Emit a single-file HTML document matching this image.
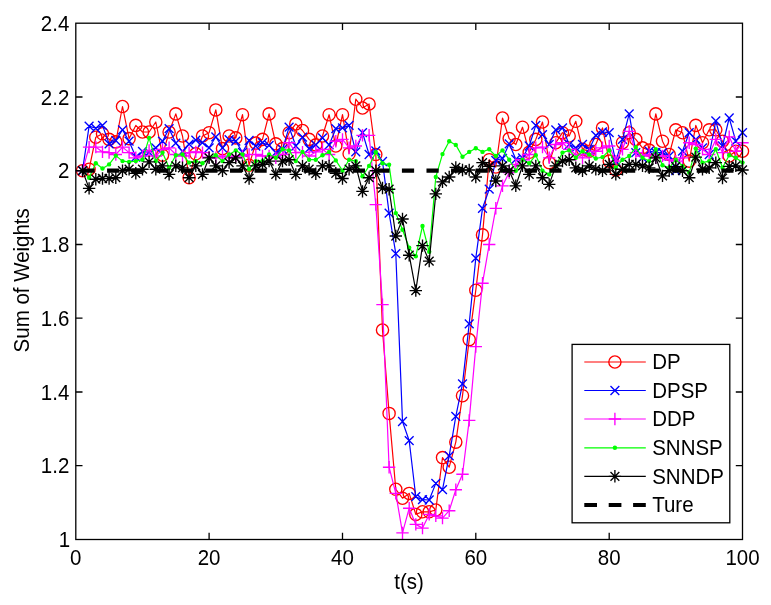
<!DOCTYPE html>
<html lang="en">
<head>
<meta charset="utf-8">
<title>Sum of Weights</title>
<style>html,body{margin:0;padding:0;background:#fff}svg{display:block;will-change:transform}</style>
</head>
<body>
<svg width="771" height="605" viewBox="0 0 771 605" font-family="'Liberation Sans', Arial, Helvetica, sans-serif" font-size="20.5" fill="#000">
<rect width="771" height="605" fill="#fff"/>
<polyline points="82.5,170.7 89.1,169.2 95.8,137.2 102.5,133.8 109.1,139.4 115.8,141.9 122.5,106.5 129.1,138.6 135.8,125.4 142.5,132.0 149.1,132.0 155.8,122.0 162.5,155.2 169.1,132.0 175.8,113.9 182.5,136.0 189.1,177.7 195.8,153.8 202.5,136.0 209.1,132.7 215.8,109.9 222.5,148.6 229.1,136.0 235.8,137.9 242.5,114.7 249.1,165.2 255.8,143.1 262.5,139.4 269.1,113.9 275.8,143.8 282.5,148.6 289.1,132.7 295.8,123.9 302.5,130.5 309.1,139.4 315.8,144.9 322.5,136.0 329.1,114.7 335.8,146.0 342.5,114.7 349.1,153.8 355.8,99.2 362.5,108.0 369.1,104.0 375.8,154.5 382.5,330.0 389.1,413.4 395.8,489.3 402.5,498.2 409.2,493.4 415.8,514.4 422.5,511.8 429.2,511.8 435.8,510.0 442.5,457.6 449.2,467.2 455.8,442.1 462.5,395.7 469.2,339.6 475.8,290.2 482.5,234.9 489.2,159.7 495.8,167.0 502.5,118.0 509.2,138.6 515.8,144.5 522.5,127.2 529.2,152.3 535.8,139.4 542.5,122.0 549.2,162.6 555.8,142.7 562.5,132.7 569.2,136.0 575.8,121.3 582.5,149.3 589.2,151.2 595.8,144.5 602.5,127.9 609.2,161.1 615.8,170.0 622.5,142.7 629.2,132.7 635.8,139.4 642.5,147.8 649.2,150.1 655.8,113.9 662.5,141.2 669.2,154.5 675.8,129.8 682.5,132.7 689.2,161.1 695.8,125.4 702.5,142.7 709.2,129.8 715.8,129.8 722.5,141.2 729.2,156.0 735.8,151.2 742.5,151.2" fill="none" stroke="#f00" stroke-width="1.2" stroke-linejoin="round"/>
<path d="M76.4 170.7a6.1 6.1 0 1 0 12.2 0a6.1 6.1 0 1 0 -12.2 0M83.0 169.2a6.1 6.1 0 1 0 12.2 0a6.1 6.1 0 1 0 -12.2 0M89.7 137.2a6.1 6.1 0 1 0 12.2 0a6.1 6.1 0 1 0 -12.2 0M96.4 133.8a6.1 6.1 0 1 0 12.2 0a6.1 6.1 0 1 0 -12.2 0M103.0 139.4a6.1 6.1 0 1 0 12.2 0a6.1 6.1 0 1 0 -12.2 0M109.7 141.9a6.1 6.1 0 1 0 12.2 0a6.1 6.1 0 1 0 -12.2 0M116.4 106.5a6.1 6.1 0 1 0 12.2 0a6.1 6.1 0 1 0 -12.2 0M123.0 138.6a6.1 6.1 0 1 0 12.2 0a6.1 6.1 0 1 0 -12.2 0M129.7 125.4a6.1 6.1 0 1 0 12.2 0a6.1 6.1 0 1 0 -12.2 0M136.4 132.0a6.1 6.1 0 1 0 12.2 0a6.1 6.1 0 1 0 -12.2 0M143.0 132.0a6.1 6.1 0 1 0 12.2 0a6.1 6.1 0 1 0 -12.2 0M149.7 122.0a6.1 6.1 0 1 0 12.2 0a6.1 6.1 0 1 0 -12.2 0M156.4 155.2a6.1 6.1 0 1 0 12.2 0a6.1 6.1 0 1 0 -12.2 0M163.0 132.0a6.1 6.1 0 1 0 12.2 0a6.1 6.1 0 1 0 -12.2 0M169.7 113.9a6.1 6.1 0 1 0 12.2 0a6.1 6.1 0 1 0 -12.2 0M176.4 136.0a6.1 6.1 0 1 0 12.2 0a6.1 6.1 0 1 0 -12.2 0M183.0 177.7a6.1 6.1 0 1 0 12.2 0a6.1 6.1 0 1 0 -12.2 0M189.7 153.8a6.1 6.1 0 1 0 12.2 0a6.1 6.1 0 1 0 -12.2 0M196.4 136.0a6.1 6.1 0 1 0 12.2 0a6.1 6.1 0 1 0 -12.2 0M203.0 132.7a6.1 6.1 0 1 0 12.2 0a6.1 6.1 0 1 0 -12.2 0M209.7 109.9a6.1 6.1 0 1 0 12.2 0a6.1 6.1 0 1 0 -12.2 0M216.4 148.6a6.1 6.1 0 1 0 12.2 0a6.1 6.1 0 1 0 -12.2 0M223.0 136.0a6.1 6.1 0 1 0 12.2 0a6.1 6.1 0 1 0 -12.2 0M229.7 137.9a6.1 6.1 0 1 0 12.2 0a6.1 6.1 0 1 0 -12.2 0M236.4 114.7a6.1 6.1 0 1 0 12.2 0a6.1 6.1 0 1 0 -12.2 0M243.0 165.2a6.1 6.1 0 1 0 12.2 0a6.1 6.1 0 1 0 -12.2 0M249.7 143.1a6.1 6.1 0 1 0 12.2 0a6.1 6.1 0 1 0 -12.2 0M256.4 139.4a6.1 6.1 0 1 0 12.2 0a6.1 6.1 0 1 0 -12.2 0M263.0 113.9a6.1 6.1 0 1 0 12.2 0a6.1 6.1 0 1 0 -12.2 0M269.7 143.8a6.1 6.1 0 1 0 12.2 0a6.1 6.1 0 1 0 -12.2 0M276.4 148.6a6.1 6.1 0 1 0 12.2 0a6.1 6.1 0 1 0 -12.2 0M283.0 132.7a6.1 6.1 0 1 0 12.2 0a6.1 6.1 0 1 0 -12.2 0M289.7 123.9a6.1 6.1 0 1 0 12.2 0a6.1 6.1 0 1 0 -12.2 0M296.4 130.5a6.1 6.1 0 1 0 12.2 0a6.1 6.1 0 1 0 -12.2 0M303.0 139.4a6.1 6.1 0 1 0 12.2 0a6.1 6.1 0 1 0 -12.2 0M309.7 144.9a6.1 6.1 0 1 0 12.2 0a6.1 6.1 0 1 0 -12.2 0M316.4 136.0a6.1 6.1 0 1 0 12.2 0a6.1 6.1 0 1 0 -12.2 0M323.0 114.7a6.1 6.1 0 1 0 12.2 0a6.1 6.1 0 1 0 -12.2 0M329.7 146.0a6.1 6.1 0 1 0 12.2 0a6.1 6.1 0 1 0 -12.2 0M336.4 114.7a6.1 6.1 0 1 0 12.2 0a6.1 6.1 0 1 0 -12.2 0M343.0 153.8a6.1 6.1 0 1 0 12.2 0a6.1 6.1 0 1 0 -12.2 0M349.7 99.2a6.1 6.1 0 1 0 12.2 0a6.1 6.1 0 1 0 -12.2 0M356.4 108.0a6.1 6.1 0 1 0 12.2 0a6.1 6.1 0 1 0 -12.2 0M363.0 104.0a6.1 6.1 0 1 0 12.2 0a6.1 6.1 0 1 0 -12.2 0M369.7 154.5a6.1 6.1 0 1 0 12.2 0a6.1 6.1 0 1 0 -12.2 0M376.4 330.0a6.1 6.1 0 1 0 12.2 0a6.1 6.1 0 1 0 -12.2 0M383.0 413.4a6.1 6.1 0 1 0 12.2 0a6.1 6.1 0 1 0 -12.2 0M389.7 489.3a6.1 6.1 0 1 0 12.2 0a6.1 6.1 0 1 0 -12.2 0M396.4 498.2a6.1 6.1 0 1 0 12.2 0a6.1 6.1 0 1 0 -12.2 0M403.1 493.4a6.1 6.1 0 1 0 12.2 0a6.1 6.1 0 1 0 -12.2 0M409.7 514.4a6.1 6.1 0 1 0 12.2 0a6.1 6.1 0 1 0 -12.2 0M416.4 511.8a6.1 6.1 0 1 0 12.2 0a6.1 6.1 0 1 0 -12.2 0M423.1 511.8a6.1 6.1 0 1 0 12.2 0a6.1 6.1 0 1 0 -12.2 0M429.7 510.0a6.1 6.1 0 1 0 12.2 0a6.1 6.1 0 1 0 -12.2 0M436.4 457.6a6.1 6.1 0 1 0 12.2 0a6.1 6.1 0 1 0 -12.2 0M443.1 467.2a6.1 6.1 0 1 0 12.2 0a6.1 6.1 0 1 0 -12.2 0M449.7 442.1a6.1 6.1 0 1 0 12.2 0a6.1 6.1 0 1 0 -12.2 0M456.4 395.7a6.1 6.1 0 1 0 12.2 0a6.1 6.1 0 1 0 -12.2 0M463.1 339.6a6.1 6.1 0 1 0 12.2 0a6.1 6.1 0 1 0 -12.2 0M469.7 290.2a6.1 6.1 0 1 0 12.2 0a6.1 6.1 0 1 0 -12.2 0M476.4 234.9a6.1 6.1 0 1 0 12.2 0a6.1 6.1 0 1 0 -12.2 0M483.1 159.7a6.1 6.1 0 1 0 12.2 0a6.1 6.1 0 1 0 -12.2 0M489.7 167.0a6.1 6.1 0 1 0 12.2 0a6.1 6.1 0 1 0 -12.2 0M496.4 118.0a6.1 6.1 0 1 0 12.2 0a6.1 6.1 0 1 0 -12.2 0M503.1 138.6a6.1 6.1 0 1 0 12.2 0a6.1 6.1 0 1 0 -12.2 0M509.7 144.5a6.1 6.1 0 1 0 12.2 0a6.1 6.1 0 1 0 -12.2 0M516.4 127.2a6.1 6.1 0 1 0 12.2 0a6.1 6.1 0 1 0 -12.2 0M523.1 152.3a6.1 6.1 0 1 0 12.2 0a6.1 6.1 0 1 0 -12.2 0M529.7 139.4a6.1 6.1 0 1 0 12.2 0a6.1 6.1 0 1 0 -12.2 0M536.4 122.0a6.1 6.1 0 1 0 12.2 0a6.1 6.1 0 1 0 -12.2 0M543.1 162.6a6.1 6.1 0 1 0 12.2 0a6.1 6.1 0 1 0 -12.2 0M549.7 142.7a6.1 6.1 0 1 0 12.2 0a6.1 6.1 0 1 0 -12.2 0M556.4 132.7a6.1 6.1 0 1 0 12.2 0a6.1 6.1 0 1 0 -12.2 0M563.1 136.0a6.1 6.1 0 1 0 12.2 0a6.1 6.1 0 1 0 -12.2 0M569.7 121.3a6.1 6.1 0 1 0 12.2 0a6.1 6.1 0 1 0 -12.2 0M576.4 149.3a6.1 6.1 0 1 0 12.2 0a6.1 6.1 0 1 0 -12.2 0M583.1 151.2a6.1 6.1 0 1 0 12.2 0a6.1 6.1 0 1 0 -12.2 0M589.7 144.5a6.1 6.1 0 1 0 12.2 0a6.1 6.1 0 1 0 -12.2 0M596.4 127.9a6.1 6.1 0 1 0 12.2 0a6.1 6.1 0 1 0 -12.2 0M603.1 161.1a6.1 6.1 0 1 0 12.2 0a6.1 6.1 0 1 0 -12.2 0M609.7 170.0a6.1 6.1 0 1 0 12.2 0a6.1 6.1 0 1 0 -12.2 0M616.4 142.7a6.1 6.1 0 1 0 12.2 0a6.1 6.1 0 1 0 -12.2 0M623.1 132.7a6.1 6.1 0 1 0 12.2 0a6.1 6.1 0 1 0 -12.2 0M629.7 139.4a6.1 6.1 0 1 0 12.2 0a6.1 6.1 0 1 0 -12.2 0M636.4 147.8a6.1 6.1 0 1 0 12.2 0a6.1 6.1 0 1 0 -12.2 0M643.1 150.1a6.1 6.1 0 1 0 12.2 0a6.1 6.1 0 1 0 -12.2 0M649.7 113.9a6.1 6.1 0 1 0 12.2 0a6.1 6.1 0 1 0 -12.2 0M656.4 141.2a6.1 6.1 0 1 0 12.2 0a6.1 6.1 0 1 0 -12.2 0M663.1 154.5a6.1 6.1 0 1 0 12.2 0a6.1 6.1 0 1 0 -12.2 0M669.7 129.8a6.1 6.1 0 1 0 12.2 0a6.1 6.1 0 1 0 -12.2 0M676.4 132.7a6.1 6.1 0 1 0 12.2 0a6.1 6.1 0 1 0 -12.2 0M683.1 161.1a6.1 6.1 0 1 0 12.2 0a6.1 6.1 0 1 0 -12.2 0M689.7 125.4a6.1 6.1 0 1 0 12.2 0a6.1 6.1 0 1 0 -12.2 0M696.4 142.7a6.1 6.1 0 1 0 12.2 0a6.1 6.1 0 1 0 -12.2 0M703.1 129.8a6.1 6.1 0 1 0 12.2 0a6.1 6.1 0 1 0 -12.2 0M709.7 129.8a6.1 6.1 0 1 0 12.2 0a6.1 6.1 0 1 0 -12.2 0M716.4 141.2a6.1 6.1 0 1 0 12.2 0a6.1 6.1 0 1 0 -12.2 0M723.1 156.0a6.1 6.1 0 1 0 12.2 0a6.1 6.1 0 1 0 -12.2 0M729.7 151.2a6.1 6.1 0 1 0 12.2 0a6.1 6.1 0 1 0 -12.2 0M736.4 151.2a6.1 6.1 0 1 0 12.2 0a6.1 6.1 0 1 0 -12.2 0" fill="none" stroke="#f00" stroke-width="1.35"/>
<polyline points="82.5,170.7 89.1,126.1 95.8,128.3 102.5,125.4 109.1,143.8 115.8,140.5 122.5,129.8 129.1,141.2 135.8,157.1 142.5,151.5 149.1,152.3 155.8,147.8 162.5,141.2 169.1,128.7 175.8,143.1 182.5,151.5 189.1,144.2 195.8,140.1 202.5,142.7 209.1,147.8 215.8,136.8 222.5,147.8 229.1,139.7 235.8,141.2 242.5,152.3 249.1,140.5 255.8,146.0 262.5,142.7 269.1,145.3 275.8,152.6 282.5,149.3 289.1,127.2 295.8,146.0 302.5,137.2 309.1,148.6 315.8,144.9 322.5,137.9 329.1,144.9 335.8,128.7 342.5,127.9 349.1,125.4 355.8,151.9 362.5,132.7 369.1,154.5 375.8,150.8 382.5,161.5 389.1,213.1 395.8,253.7 402.5,421.5 409.2,440.7 415.8,496.7 422.5,499.7 429.2,500.0 435.8,483.4 442.5,489.7 449.2,455.8 455.8,416.3 462.5,383.9 469.2,323.8 475.8,258.1 482.5,208.3 489.2,189.2 495.8,160.4 502.5,158.5 509.2,143.8 515.8,159.3 522.5,157.8 529.2,146.0 535.8,125.4 542.5,134.6 549.2,144.5 555.8,129.8 562.5,127.9 569.2,144.5 575.8,147.8 582.5,144.5 589.2,149.3 595.8,135.3 602.5,132.0 609.2,132.7 615.8,161.1 622.5,139.4 629.2,113.9 635.8,152.6 642.5,157.8 649.2,151.2 655.8,152.6 662.5,152.6 669.2,156.0 675.8,170.7 682.5,151.2 689.2,132.7 695.8,139.4 702.5,147.8 709.2,154.5 715.8,120.9 722.5,146.0 729.2,118.0 735.8,141.2 742.5,132.7" fill="none" stroke="#00f" stroke-width="1.2" stroke-linejoin="round"/>
<path d="M78.1 166.3l8.8 8.8M78.1 175.1l8.8 -8.8M84.7 121.7l8.8 8.8M84.7 130.5l8.8 -8.8M91.4 123.9l8.8 8.8M91.4 132.7l8.8 -8.8M98.1 121.0l8.8 8.8M98.1 129.8l8.8 -8.8M104.7 139.4l8.8 8.8M104.7 148.2l8.8 -8.8M111.4 136.1l8.8 8.8M111.4 144.9l8.8 -8.8M118.1 125.4l8.8 8.8M118.1 134.2l8.8 -8.8M124.7 136.8l8.8 8.8M124.7 145.6l8.8 -8.8M131.4 152.7l8.8 8.8M131.4 161.5l8.8 -8.8M138.1 147.1l8.8 8.8M138.1 155.9l8.8 -8.8M144.7 147.9l8.8 8.8M144.7 156.7l8.8 -8.8M151.4 143.4l8.8 8.8M151.4 152.2l8.8 -8.8M158.1 136.8l8.8 8.8M158.1 145.6l8.8 -8.8M164.7 124.3l8.8 8.8M164.7 133.1l8.8 -8.8M171.4 138.7l8.8 8.8M171.4 147.5l8.8 -8.8M178.1 147.1l8.8 8.8M178.1 155.9l8.8 -8.8M184.7 139.8l8.8 8.8M184.7 148.6l8.8 -8.8M191.4 135.7l8.8 8.8M191.4 144.5l8.8 -8.8M198.1 138.3l8.8 8.8M198.1 147.1l8.8 -8.8M204.7 143.4l8.8 8.8M204.7 152.2l8.8 -8.8M211.4 132.4l8.8 8.8M211.4 141.2l8.8 -8.8M218.1 143.4l8.8 8.8M218.1 152.2l8.8 -8.8M224.7 135.3l8.8 8.8M224.7 144.1l8.8 -8.8M231.4 136.8l8.8 8.8M231.4 145.6l8.8 -8.8M238.1 147.9l8.8 8.8M238.1 156.7l8.8 -8.8M244.7 136.1l8.8 8.8M244.7 144.9l8.8 -8.8M251.4 141.6l8.8 8.8M251.4 150.4l8.8 -8.8M258.1 138.3l8.8 8.8M258.1 147.1l8.8 -8.8M264.7 140.9l8.8 8.8M264.7 149.7l8.8 -8.8M271.4 148.2l8.8 8.8M271.4 157.0l8.8 -8.8M278.1 144.9l8.8 8.8M278.1 153.7l8.8 -8.8M284.7 122.8l8.8 8.8M284.7 131.6l8.8 -8.8M291.4 141.6l8.8 8.8M291.4 150.4l8.8 -8.8M298.1 132.8l8.8 8.8M298.1 141.6l8.8 -8.8M304.7 144.2l8.8 8.8M304.7 153.0l8.8 -8.8M311.4 140.5l8.8 8.8M311.4 149.3l8.8 -8.8M318.1 133.5l8.8 8.8M318.1 142.3l8.8 -8.8M324.7 140.5l8.8 8.8M324.7 149.3l8.8 -8.8M331.4 124.3l8.8 8.8M331.4 133.1l8.8 -8.8M338.1 123.5l8.8 8.8M338.1 132.3l8.8 -8.8M344.7 121.0l8.8 8.8M344.7 129.8l8.8 -8.8M351.4 147.5l8.8 8.8M351.4 156.3l8.8 -8.8M358.1 128.3l8.8 8.8M358.1 137.1l8.8 -8.8M364.7 150.1l8.8 8.8M364.7 158.9l8.8 -8.8M371.4 146.4l8.8 8.8M371.4 155.2l8.8 -8.8M378.1 157.1l8.8 8.8M378.1 165.9l8.8 -8.8M384.7 208.7l8.8 8.8M384.7 217.5l8.8 -8.8M391.4 249.3l8.8 8.8M391.4 258.1l8.8 -8.8M398.1 417.1l8.8 8.8M398.1 425.9l8.8 -8.8M404.8 436.3l8.8 8.8M404.8 445.1l8.8 -8.8M411.4 492.3l8.8 8.8M411.4 501.1l8.8 -8.8M418.1 495.3l8.8 8.8M418.1 504.1l8.8 -8.8M424.8 495.6l8.8 8.8M424.8 504.4l8.8 -8.8M431.4 479.0l8.8 8.8M431.4 487.8l8.8 -8.8M438.1 485.3l8.8 8.8M438.1 494.1l8.8 -8.8M444.8 451.4l8.8 8.8M444.8 460.2l8.8 -8.8M451.4 411.9l8.8 8.8M451.4 420.7l8.8 -8.8M458.1 379.5l8.8 8.8M458.1 388.3l8.8 -8.8M464.8 319.4l8.8 8.8M464.8 328.2l8.8 -8.8M471.4 253.7l8.8 8.8M471.4 262.5l8.8 -8.8M478.1 203.9l8.8 8.8M478.1 212.7l8.8 -8.8M484.8 184.8l8.8 8.8M484.8 193.6l8.8 -8.8M491.4 156.0l8.8 8.8M491.4 164.8l8.8 -8.8M498.1 154.1l8.8 8.8M498.1 162.9l8.8 -8.8M504.8 139.4l8.8 8.8M504.8 148.2l8.8 -8.8M511.4 154.9l8.8 8.8M511.4 163.7l8.8 -8.8M518.1 153.4l8.8 8.8M518.1 162.2l8.8 -8.8M524.8 141.6l8.8 8.8M524.8 150.4l8.8 -8.8M531.4 121.0l8.8 8.8M531.4 129.8l8.8 -8.8M538.1 130.2l8.8 8.8M538.1 139.0l8.8 -8.8M544.8 140.1l8.8 8.8M544.8 148.9l8.8 -8.8M551.4 125.4l8.8 8.8M551.4 134.2l8.8 -8.8M558.1 123.5l8.8 8.8M558.1 132.3l8.8 -8.8M564.8 140.1l8.8 8.8M564.8 148.9l8.8 -8.8M571.4 143.4l8.8 8.8M571.4 152.2l8.8 -8.8M578.1 140.1l8.8 8.8M578.1 148.9l8.8 -8.8M584.8 144.9l8.8 8.8M584.8 153.7l8.8 -8.8M591.4 130.9l8.8 8.8M591.4 139.7l8.8 -8.8M598.1 127.6l8.8 8.8M598.1 136.4l8.8 -8.8M604.8 128.3l8.8 8.8M604.8 137.1l8.8 -8.8M611.4 156.7l8.8 8.8M611.4 165.5l8.8 -8.8M618.1 135.0l8.8 8.8M618.1 143.8l8.8 -8.8M624.8 109.5l8.8 8.8M624.8 118.3l8.8 -8.8M631.4 148.2l8.8 8.8M631.4 157.0l8.8 -8.8M638.1 153.4l8.8 8.8M638.1 162.2l8.8 -8.8M644.8 146.8l8.8 8.8M644.8 155.6l8.8 -8.8M651.4 148.2l8.8 8.8M651.4 157.0l8.8 -8.8M658.1 148.2l8.8 8.8M658.1 157.0l8.8 -8.8M664.8 151.6l8.8 8.8M664.8 160.4l8.8 -8.8M671.4 166.3l8.8 8.8M671.4 175.1l8.8 -8.8M678.1 146.8l8.8 8.8M678.1 155.6l8.8 -8.8M684.8 128.3l8.8 8.8M684.8 137.1l8.8 -8.8M691.4 135.0l8.8 8.8M691.4 143.8l8.8 -8.8M698.1 143.4l8.8 8.8M698.1 152.2l8.8 -8.8M704.8 150.1l8.8 8.8M704.8 158.9l8.8 -8.8M711.4 116.5l8.8 8.8M711.4 125.3l8.8 -8.8M718.1 141.6l8.8 8.8M718.1 150.4l8.8 -8.8M724.8 113.6l8.8 8.8M724.8 122.4l8.8 -8.8M731.4 136.8l8.8 8.8M731.4 145.6l8.8 -8.8M738.1 128.3l8.8 8.8M738.1 137.1l8.8 -8.8" fill="none" stroke="#00f" stroke-width="1.35"/>
<polyline points="82.5,170.7 89.1,147.1 95.8,147.1 102.5,151.9 109.1,152.6 115.8,154.5 122.5,147.1 129.1,152.6 135.8,157.8 142.5,156.0 149.1,150.4 155.8,156.0 162.5,149.3 169.1,147.8 175.8,154.5 182.5,156.0 189.1,152.6 195.8,151.9 202.5,152.6 209.1,157.1 215.8,157.8 222.5,156.0 229.1,157.8 235.8,156.0 242.5,156.0 249.1,154.5 255.8,154.5 262.5,156.0 269.1,156.0 275.8,157.8 282.5,154.5 289.1,142.7 295.8,152.6 302.5,152.3 309.1,156.0 315.8,151.9 322.5,149.3 329.1,154.5 335.8,141.2 342.5,139.4 349.1,147.8 355.8,146.0 362.5,135.3 369.1,135.3 375.8,204.6 382.5,304.6 389.1,467.2 395.8,493.4 402.5,532.9 409.2,508.2 415.8,524.4 422.5,528.1 429.2,514.4 435.8,515.9 442.5,518.1 449.2,510.7 455.8,489.7 462.5,474.2 469.2,420.4 475.8,346.6 482.5,283.2 489.2,244.5 495.8,208.3 502.5,185.8 509.2,172.6 515.8,164.4 522.5,159.7 529.2,154.5 535.8,147.8 542.5,147.1 549.2,157.8 555.8,144.5 562.5,142.7 569.2,149.3 575.8,154.5 582.5,157.8 589.2,154.5 595.8,151.2 602.5,147.8 609.2,146.0 615.8,161.1 622.5,149.3 629.2,131.3 635.8,152.6 642.5,156.0 649.2,154.5 655.8,157.8 662.5,156.0 669.2,159.7 675.8,161.1 682.5,157.8 689.2,142.7 695.8,144.5 702.5,149.3 709.2,154.5 715.8,139.4 722.5,152.6 729.2,136.8 735.8,151.2 742.5,142.7" fill="none" stroke="#f0f" stroke-width="1.2" stroke-linejoin="round"/>
<path d="M76.3 170.7h12.4M82.5 164.5v12.4M82.9 147.1h12.4M89.1 140.9v12.4M89.6 147.1h12.4M95.8 140.9v12.4M96.3 151.9h12.4M102.5 145.7v12.4M102.9 152.6h12.4M109.1 146.4v12.4M109.6 154.5h12.4M115.8 148.3v12.4M116.3 147.1h12.4M122.5 140.9v12.4M122.9 152.6h12.4M129.1 146.4v12.4M129.6 157.8h12.4M135.8 151.6v12.4M136.3 156.0h12.4M142.5 149.8v12.4M142.9 150.4h12.4M149.1 144.2v12.4M149.6 156.0h12.4M155.8 149.8v12.4M156.3 149.3h12.4M162.5 143.1v12.4M162.9 147.8h12.4M169.1 141.6v12.4M169.6 154.5h12.4M175.8 148.3v12.4M176.3 156.0h12.4M182.5 149.8v12.4M182.9 152.6h12.4M189.1 146.4v12.4M189.6 151.9h12.4M195.8 145.7v12.4M196.3 152.6h12.4M202.5 146.4v12.4M202.9 157.1h12.4M209.1 150.9v12.4M209.6 157.8h12.4M215.8 151.6v12.4M216.3 156.0h12.4M222.5 149.8v12.4M222.9 157.8h12.4M229.1 151.6v12.4M229.6 156.0h12.4M235.8 149.8v12.4M236.3 156.0h12.4M242.5 149.8v12.4M242.9 154.5h12.4M249.1 148.3v12.4M249.6 154.5h12.4M255.8 148.3v12.4M256.3 156.0h12.4M262.5 149.8v12.4M262.9 156.0h12.4M269.1 149.8v12.4M269.6 157.8h12.4M275.8 151.6v12.4M276.3 154.5h12.4M282.5 148.3v12.4M282.9 142.7h12.4M289.1 136.5v12.4M289.6 152.6h12.4M295.8 146.4v12.4M296.3 152.3h12.4M302.5 146.1v12.4M302.9 156.0h12.4M309.1 149.8v12.4M309.6 151.9h12.4M315.8 145.7v12.4M316.3 149.3h12.4M322.5 143.1v12.4M322.9 154.5h12.4M329.1 148.3v12.4M329.6 141.2h12.4M335.8 135.0v12.4M336.3 139.4h12.4M342.5 133.2v12.4M342.9 147.8h12.4M349.1 141.6v12.4M349.6 146.0h12.4M355.8 139.8v12.4M356.3 135.3h12.4M362.5 129.1v12.4M362.9 135.3h12.4M369.1 129.1v12.4M369.6 204.6h12.4M375.8 198.4v12.4M376.3 304.6h12.4M382.5 298.4v12.4M382.9 467.2h12.4M389.1 461.0v12.4M389.6 493.4h12.4M395.8 487.2v12.4M396.3 532.9h12.4M402.5 526.7v12.4M403.0 508.2h12.4M409.2 502.0v12.4M409.6 524.4h12.4M415.8 518.2v12.4M416.3 528.1h12.4M422.5 521.9v12.4M423.0 514.4h12.4M429.2 508.2v12.4M429.6 515.9h12.4M435.8 509.7v12.4M436.3 518.1h12.4M442.5 511.9v12.4M443.0 510.7h12.4M449.2 504.5v12.4M449.6 489.7h12.4M455.8 483.5v12.4M456.3 474.2h12.4M462.5 468.0v12.4M463.0 420.4h12.4M469.2 414.2v12.4M469.6 346.6h12.4M475.8 340.4v12.4M476.3 283.2h12.4M482.5 277.0v12.4M483.0 244.5h12.4M489.2 238.3v12.4M489.6 208.3h12.4M495.8 202.1v12.4M496.3 185.8h12.4M502.5 179.6v12.4M503.0 172.6h12.4M509.2 166.4v12.4M509.6 164.4h12.4M515.8 158.2v12.4M516.3 159.7h12.4M522.5 153.5v12.4M523.0 154.5h12.4M529.2 148.3v12.4M529.6 147.8h12.4M535.8 141.6v12.4M536.3 147.1h12.4M542.5 140.9v12.4M543.0 157.8h12.4M549.2 151.6v12.4M549.6 144.5h12.4M555.8 138.3v12.4M556.3 142.7h12.4M562.5 136.5v12.4M563.0 149.3h12.4M569.2 143.1v12.4M569.6 154.5h12.4M575.8 148.3v12.4M576.3 157.8h12.4M582.5 151.6v12.4M583.0 154.5h12.4M589.2 148.3v12.4M589.6 151.2h12.4M595.8 145.0v12.4M596.3 147.8h12.4M602.5 141.6v12.4M603.0 146.0h12.4M609.2 139.8v12.4M609.6 161.1h12.4M615.8 154.9v12.4M616.3 149.3h12.4M622.5 143.1v12.4M623.0 131.3h12.4M629.2 125.1v12.4M629.6 152.6h12.4M635.8 146.4v12.4M636.3 156.0h12.4M642.5 149.8v12.4M643.0 154.5h12.4M649.2 148.3v12.4M649.6 157.8h12.4M655.8 151.6v12.4M656.3 156.0h12.4M662.5 149.8v12.4M663.0 159.7h12.4M669.2 153.5v12.4M669.6 161.1h12.4M675.8 154.9v12.4M676.3 157.8h12.4M682.5 151.6v12.4M683.0 142.7h12.4M689.2 136.5v12.4M689.6 144.5h12.4M695.8 138.3v12.4M696.3 149.3h12.4M702.5 143.1v12.4M703.0 154.5h12.4M709.2 148.3v12.4M709.6 139.4h12.4M715.8 133.2v12.4M716.3 152.6h12.4M722.5 146.4v12.4M723.0 136.8h12.4M729.2 130.6v12.4M729.6 151.2h12.4M735.8 145.0v12.4M736.3 142.7h12.4M742.5 136.5v12.4" fill="none" stroke="#f0f" stroke-width="1.35"/>
<polyline points="82.5,170.7 89.1,177.7 95.8,163.3 102.5,168.5 109.1,164.4 115.8,155.6 122.5,161.1 129.1,161.9 135.8,161.1 142.5,159.7 149.1,137.9 155.8,161.1 162.5,152.6 169.1,167.8 175.8,155.2 182.5,154.5 189.1,162.6 195.8,161.1 202.5,163.3 209.1,157.8 215.8,155.2 222.5,161.1 229.1,154.5 235.8,150.4 242.5,154.5 249.1,169.2 255.8,161.1 262.5,161.1 269.1,154.5 275.8,157.8 282.5,149.3 289.1,150.4 295.8,161.1 302.5,151.9 309.1,159.7 315.8,159.7 322.5,155.2 329.1,151.9 335.8,160.4 342.5,170.7 349.1,159.7 355.8,161.1 362.5,176.2 369.1,165.9 375.8,152.3 382.5,163.3 389.1,164.8 395.8,213.1 402.5,229.7 409.2,247.8 415.8,256.3 422.5,226.0 429.2,251.8 435.8,177.0 442.5,154.1 449.2,141.2 455.8,144.9 462.5,156.7 469.2,151.9 475.8,148.2 482.5,151.9 489.2,149.3 495.8,156.0 502.5,150.4 509.2,159.7 515.8,170.7 522.5,159.7 529.2,163.3 535.8,155.2 542.5,170.7 549.2,174.4 555.8,165.9 562.5,152.6 569.2,150.4 575.8,157.8 582.5,151.2 589.2,154.5 595.8,158.5 602.5,157.1 609.2,150.4 615.8,167.8 622.5,159.7 629.2,156.0 635.8,147.1 642.5,157.8 649.2,161.1 655.8,149.3 662.5,165.2 669.2,167.8 675.8,159.7 682.5,165.9 689.2,172.6 695.8,148.6 702.5,162.6 709.2,161.1 715.8,149.3 722.5,167.8 729.2,155.2 735.8,157.8 742.5,162.6" fill="none" stroke="#0f0" stroke-width="1.2" stroke-linejoin="round"/>
<g fill="#0f0"><circle cx="82.5" cy="170.7" r="2.2"/><circle cx="89.1" cy="177.7" r="2.2"/><circle cx="95.8" cy="163.3" r="2.2"/><circle cx="102.5" cy="168.5" r="2.2"/><circle cx="109.1" cy="164.4" r="2.2"/><circle cx="115.8" cy="155.6" r="2.2"/><circle cx="122.5" cy="161.1" r="2.2"/><circle cx="129.1" cy="161.9" r="2.2"/><circle cx="135.8" cy="161.1" r="2.2"/><circle cx="142.5" cy="159.7" r="2.2"/><circle cx="149.1" cy="137.9" r="2.2"/><circle cx="155.8" cy="161.1" r="2.2"/><circle cx="162.5" cy="152.6" r="2.2"/><circle cx="169.1" cy="167.8" r="2.2"/><circle cx="175.8" cy="155.2" r="2.2"/><circle cx="182.5" cy="154.5" r="2.2"/><circle cx="189.1" cy="162.6" r="2.2"/><circle cx="195.8" cy="161.1" r="2.2"/><circle cx="202.5" cy="163.3" r="2.2"/><circle cx="209.1" cy="157.8" r="2.2"/><circle cx="215.8" cy="155.2" r="2.2"/><circle cx="222.5" cy="161.1" r="2.2"/><circle cx="229.1" cy="154.5" r="2.2"/><circle cx="235.8" cy="150.4" r="2.2"/><circle cx="242.5" cy="154.5" r="2.2"/><circle cx="249.1" cy="169.2" r="2.2"/><circle cx="255.8" cy="161.1" r="2.2"/><circle cx="262.5" cy="161.1" r="2.2"/><circle cx="269.1" cy="154.5" r="2.2"/><circle cx="275.8" cy="157.8" r="2.2"/><circle cx="282.5" cy="149.3" r="2.2"/><circle cx="289.1" cy="150.4" r="2.2"/><circle cx="295.8" cy="161.1" r="2.2"/><circle cx="302.5" cy="151.9" r="2.2"/><circle cx="309.1" cy="159.7" r="2.2"/><circle cx="315.8" cy="159.7" r="2.2"/><circle cx="322.5" cy="155.2" r="2.2"/><circle cx="329.1" cy="151.9" r="2.2"/><circle cx="335.8" cy="160.4" r="2.2"/><circle cx="342.5" cy="170.7" r="2.2"/><circle cx="349.1" cy="159.7" r="2.2"/><circle cx="355.8" cy="161.1" r="2.2"/><circle cx="362.5" cy="176.2" r="2.2"/><circle cx="369.1" cy="165.9" r="2.2"/><circle cx="375.8" cy="152.3" r="2.2"/><circle cx="382.5" cy="163.3" r="2.2"/><circle cx="389.1" cy="164.8" r="2.2"/><circle cx="395.8" cy="213.1" r="2.2"/><circle cx="402.5" cy="229.7" r="2.2"/><circle cx="409.2" cy="247.8" r="2.2"/><circle cx="415.8" cy="256.3" r="2.2"/><circle cx="422.5" cy="226.0" r="2.2"/><circle cx="429.2" cy="251.8" r="2.2"/><circle cx="435.8" cy="177.0" r="2.2"/><circle cx="442.5" cy="154.1" r="2.2"/><circle cx="449.2" cy="141.2" r="2.2"/><circle cx="455.8" cy="144.9" r="2.2"/><circle cx="462.5" cy="156.7" r="2.2"/><circle cx="469.2" cy="151.9" r="2.2"/><circle cx="475.8" cy="148.2" r="2.2"/><circle cx="482.5" cy="151.9" r="2.2"/><circle cx="489.2" cy="149.3" r="2.2"/><circle cx="495.8" cy="156.0" r="2.2"/><circle cx="502.5" cy="150.4" r="2.2"/><circle cx="509.2" cy="159.7" r="2.2"/><circle cx="515.8" cy="170.7" r="2.2"/><circle cx="522.5" cy="159.7" r="2.2"/><circle cx="529.2" cy="163.3" r="2.2"/><circle cx="535.8" cy="155.2" r="2.2"/><circle cx="542.5" cy="170.7" r="2.2"/><circle cx="549.2" cy="174.4" r="2.2"/><circle cx="555.8" cy="165.9" r="2.2"/><circle cx="562.5" cy="152.6" r="2.2"/><circle cx="569.2" cy="150.4" r="2.2"/><circle cx="575.8" cy="157.8" r="2.2"/><circle cx="582.5" cy="151.2" r="2.2"/><circle cx="589.2" cy="154.5" r="2.2"/><circle cx="595.8" cy="158.5" r="2.2"/><circle cx="602.5" cy="157.1" r="2.2"/><circle cx="609.2" cy="150.4" r="2.2"/><circle cx="615.8" cy="167.8" r="2.2"/><circle cx="622.5" cy="159.7" r="2.2"/><circle cx="629.2" cy="156.0" r="2.2"/><circle cx="635.8" cy="147.1" r="2.2"/><circle cx="642.5" cy="157.8" r="2.2"/><circle cx="649.2" cy="161.1" r="2.2"/><circle cx="655.8" cy="149.3" r="2.2"/><circle cx="662.5" cy="165.2" r="2.2"/><circle cx="669.2" cy="167.8" r="2.2"/><circle cx="675.8" cy="159.7" r="2.2"/><circle cx="682.5" cy="165.9" r="2.2"/><circle cx="689.2" cy="172.6" r="2.2"/><circle cx="695.8" cy="148.6" r="2.2"/><circle cx="702.5" cy="162.6" r="2.2"/><circle cx="709.2" cy="161.1" r="2.2"/><circle cx="715.8" cy="149.3" r="2.2"/><circle cx="722.5" cy="167.8" r="2.2"/><circle cx="729.2" cy="155.2" r="2.2"/><circle cx="735.8" cy="157.8" r="2.2"/><circle cx="742.5" cy="162.6" r="2.2"/></g>
<polyline points="82.5,170.7 89.1,188.4 95.8,179.2 102.5,178.5 109.1,178.5 115.8,177.7 122.5,170.7 129.1,169.2 135.8,173.3 142.5,169.2 149.1,161.9 155.8,169.2 162.5,165.9 169.1,174.4 175.8,165.9 182.5,167.8 189.1,177.7 195.8,165.9 202.5,174.4 209.1,157.8 215.8,165.9 222.5,170.7 229.1,162.6 235.8,157.8 242.5,165.9 249.1,178.5 255.8,165.9 262.5,164.4 269.1,161.1 275.8,174.4 282.5,161.1 289.1,159.7 295.8,174.4 302.5,165.9 309.1,169.2 315.8,173.7 322.5,165.9 329.1,165.9 335.8,173.3 342.5,178.5 349.1,169.2 355.8,165.9 362.5,191.4 369.1,177.7 375.8,170.7 382.5,188.0 389.1,189.2 395.8,236.0 402.5,219.0 409.2,255.2 415.8,290.6 422.5,245.6 429.2,261.1 435.8,193.9 442.5,181.8 449.2,177.0 455.8,167.4 462.5,170.0 469.2,170.0 475.8,177.0 482.5,162.6 489.2,166.3 495.8,181.0 502.5,165.9 509.2,170.7 515.8,185.8 522.5,165.9 529.2,174.4 535.8,165.9 542.5,177.7 549.2,184.4 555.8,165.9 562.5,161.1 569.2,159.7 575.8,167.8 582.5,170.7 589.2,165.9 595.8,169.2 602.5,170.7 609.2,164.4 615.8,174.4 622.5,169.2 629.2,164.4 635.8,164.4 642.5,165.9 649.2,167.8 655.8,157.8 662.5,175.9 669.2,170.7 675.8,166.7 682.5,170.7 689.2,177.7 695.8,157.1 702.5,169.2 709.2,167.8 715.8,162.6 722.5,178.1 729.2,166.3 735.8,165.9 742.5,170.0" fill="none" stroke="#000" stroke-width="1.2" stroke-linejoin="round"/>
<path d="M76.3 170.7h12.4M82.5 164.5v12.4M78.1 166.3l8.8 8.8M78.1 175.1l8.8 -8.8M82.9 188.4h12.4M89.1 182.2v12.4M84.7 184.0l8.8 8.8M84.7 192.8l8.8 -8.8M89.6 179.2h12.4M95.8 173.0v12.4M91.4 174.8l8.8 8.8M91.4 183.6l8.8 -8.8M96.3 178.5h12.4M102.5 172.3v12.4M98.1 174.1l8.8 8.8M98.1 182.9l8.8 -8.8M102.9 178.5h12.4M109.1 172.3v12.4M104.7 174.1l8.8 8.8M104.7 182.9l8.8 -8.8M109.6 177.7h12.4M115.8 171.5v12.4M111.4 173.3l8.8 8.8M111.4 182.1l8.8 -8.8M116.3 170.7h12.4M122.5 164.5v12.4M118.1 166.3l8.8 8.8M118.1 175.1l8.8 -8.8M122.9 169.2h12.4M129.1 163.0v12.4M124.7 164.8l8.8 8.8M124.7 173.6l8.8 -8.8M129.6 173.3h12.4M135.8 167.1v12.4M131.4 168.9l8.8 8.8M131.4 177.7l8.8 -8.8M136.3 169.2h12.4M142.5 163.0v12.4M138.1 164.8l8.8 8.8M138.1 173.6l8.8 -8.8M142.9 161.9h12.4M149.1 155.7v12.4M144.7 157.5l8.8 8.8M144.7 166.3l8.8 -8.8M149.6 169.2h12.4M155.8 163.0v12.4M151.4 164.8l8.8 8.8M151.4 173.6l8.8 -8.8M156.3 165.9h12.4M162.5 159.7v12.4M158.1 161.5l8.8 8.8M158.1 170.3l8.8 -8.8M162.9 174.4h12.4M169.1 168.2v12.4M164.7 170.0l8.8 8.8M164.7 178.8l8.8 -8.8M169.6 165.9h12.4M175.8 159.7v12.4M171.4 161.5l8.8 8.8M171.4 170.3l8.8 -8.8M176.3 167.8h12.4M182.5 161.6v12.4M178.1 163.4l8.8 8.8M178.1 172.2l8.8 -8.8M182.9 177.7h12.4M189.1 171.5v12.4M184.7 173.3l8.8 8.8M184.7 182.1l8.8 -8.8M189.6 165.9h12.4M195.8 159.7v12.4M191.4 161.5l8.8 8.8M191.4 170.3l8.8 -8.8M196.3 174.4h12.4M202.5 168.2v12.4M198.1 170.0l8.8 8.8M198.1 178.8l8.8 -8.8M202.9 157.8h12.4M209.1 151.6v12.4M204.7 153.4l8.8 8.8M204.7 162.2l8.8 -8.8M209.6 165.9h12.4M215.8 159.7v12.4M211.4 161.5l8.8 8.8M211.4 170.3l8.8 -8.8M216.3 170.7h12.4M222.5 164.5v12.4M218.1 166.3l8.8 8.8M218.1 175.1l8.8 -8.8M222.9 162.6h12.4M229.1 156.4v12.4M224.7 158.2l8.8 8.8M224.7 167.0l8.8 -8.8M229.6 157.8h12.4M235.8 151.6v12.4M231.4 153.4l8.8 8.8M231.4 162.2l8.8 -8.8M236.3 165.9h12.4M242.5 159.7v12.4M238.1 161.5l8.8 8.8M238.1 170.3l8.8 -8.8M242.9 178.5h12.4M249.1 172.3v12.4M244.7 174.1l8.8 8.8M244.7 182.9l8.8 -8.8M249.6 165.9h12.4M255.8 159.7v12.4M251.4 161.5l8.8 8.8M251.4 170.3l8.8 -8.8M256.3 164.4h12.4M262.5 158.2v12.4M258.1 160.0l8.8 8.8M258.1 168.8l8.8 -8.8M262.9 161.1h12.4M269.1 154.9v12.4M264.7 156.7l8.8 8.8M264.7 165.5l8.8 -8.8M269.6 174.4h12.4M275.8 168.2v12.4M271.4 170.0l8.8 8.8M271.4 178.8l8.8 -8.8M276.3 161.1h12.4M282.5 154.9v12.4M278.1 156.7l8.8 8.8M278.1 165.5l8.8 -8.8M282.9 159.7h12.4M289.1 153.5v12.4M284.7 155.3l8.8 8.8M284.7 164.1l8.8 -8.8M289.6 174.4h12.4M295.8 168.2v12.4M291.4 170.0l8.8 8.8M291.4 178.8l8.8 -8.8M296.3 165.9h12.4M302.5 159.7v12.4M298.1 161.5l8.8 8.8M298.1 170.3l8.8 -8.8M302.9 169.2h12.4M309.1 163.0v12.4M304.7 164.8l8.8 8.8M304.7 173.6l8.8 -8.8M309.6 173.7h12.4M315.8 167.5v12.4M311.4 169.3l8.8 8.8M311.4 178.1l8.8 -8.8M316.3 165.9h12.4M322.5 159.7v12.4M318.1 161.5l8.8 8.8M318.1 170.3l8.8 -8.8M322.9 165.9h12.4M329.1 159.7v12.4M324.7 161.5l8.8 8.8M324.7 170.3l8.8 -8.8M329.6 173.3h12.4M335.8 167.1v12.4M331.4 168.9l8.8 8.8M331.4 177.7l8.8 -8.8M336.3 178.5h12.4M342.5 172.3v12.4M338.1 174.1l8.8 8.8M338.1 182.9l8.8 -8.8M342.9 169.2h12.4M349.1 163.0v12.4M344.7 164.8l8.8 8.8M344.7 173.6l8.8 -8.8M349.6 165.9h12.4M355.8 159.7v12.4M351.4 161.5l8.8 8.8M351.4 170.3l8.8 -8.8M356.3 191.4h12.4M362.5 185.2v12.4M358.1 187.0l8.8 8.8M358.1 195.8l8.8 -8.8M362.9 177.7h12.4M369.1 171.5v12.4M364.7 173.3l8.8 8.8M364.7 182.1l8.8 -8.8M369.6 170.7h12.4M375.8 164.5v12.4M371.4 166.3l8.8 8.8M371.4 175.1l8.8 -8.8M376.3 188.0h12.4M382.5 181.8v12.4M378.1 183.6l8.8 8.8M378.1 192.4l8.8 -8.8M382.9 189.2h12.4M389.1 183.0v12.4M384.7 184.8l8.8 8.8M384.7 193.6l8.8 -8.8M389.6 236.0h12.4M395.8 229.8v12.4M391.4 231.6l8.8 8.8M391.4 240.4l8.8 -8.8M396.3 219.0h12.4M402.5 212.8v12.4M398.1 214.6l8.8 8.8M398.1 223.4l8.8 -8.8M403.0 255.2h12.4M409.2 249.0v12.4M404.8 250.8l8.8 8.8M404.8 259.6l8.8 -8.8M409.6 290.6h12.4M415.8 284.4v12.4M411.4 286.2l8.8 8.8M411.4 295.0l8.8 -8.8M416.3 245.6h12.4M422.5 239.4v12.4M418.1 241.2l8.8 8.8M418.1 250.0l8.8 -8.8M423.0 261.1h12.4M429.2 254.9v12.4M424.8 256.7l8.8 8.8M424.8 265.5l8.8 -8.8M429.6 193.9h12.4M435.8 187.7v12.4M431.4 189.5l8.8 8.8M431.4 198.3l8.8 -8.8M436.3 181.8h12.4M442.5 175.6v12.4M438.1 177.4l8.8 8.8M438.1 186.2l8.8 -8.8M443.0 177.0h12.4M449.2 170.8v12.4M444.8 172.6l8.8 8.8M444.8 181.4l8.8 -8.8M449.6 167.4h12.4M455.8 161.2v12.4M451.4 163.0l8.8 8.8M451.4 171.8l8.8 -8.8M456.3 170.0h12.4M462.5 163.8v12.4M458.1 165.6l8.8 8.8M458.1 174.4l8.8 -8.8M463.0 170.0h12.4M469.2 163.8v12.4M464.8 165.6l8.8 8.8M464.8 174.4l8.8 -8.8M469.6 177.0h12.4M475.8 170.8v12.4M471.4 172.6l8.8 8.8M471.4 181.4l8.8 -8.8M476.3 162.6h12.4M482.5 156.4v12.4M478.1 158.2l8.8 8.8M478.1 167.0l8.8 -8.8M483.0 166.3h12.4M489.2 160.1v12.4M484.8 161.9l8.8 8.8M484.8 170.7l8.8 -8.8M489.6 181.0h12.4M495.8 174.8v12.4M491.4 176.6l8.8 8.8M491.4 185.4l8.8 -8.8M496.3 165.9h12.4M502.5 159.7v12.4M498.1 161.5l8.8 8.8M498.1 170.3l8.8 -8.8M503.0 170.7h12.4M509.2 164.5v12.4M504.8 166.3l8.8 8.8M504.8 175.1l8.8 -8.8M509.6 185.8h12.4M515.8 179.6v12.4M511.4 181.4l8.8 8.8M511.4 190.2l8.8 -8.8M516.3 165.9h12.4M522.5 159.7v12.4M518.1 161.5l8.8 8.8M518.1 170.3l8.8 -8.8M523.0 174.4h12.4M529.2 168.2v12.4M524.8 170.0l8.8 8.8M524.8 178.8l8.8 -8.8M529.6 165.9h12.4M535.8 159.7v12.4M531.4 161.5l8.8 8.8M531.4 170.3l8.8 -8.8M536.3 177.7h12.4M542.5 171.5v12.4M538.1 173.3l8.8 8.8M538.1 182.1l8.8 -8.8M543.0 184.4h12.4M549.2 178.2v12.4M544.8 180.0l8.8 8.8M544.8 188.8l8.8 -8.8M549.6 165.9h12.4M555.8 159.7v12.4M551.4 161.5l8.8 8.8M551.4 170.3l8.8 -8.8M556.3 161.1h12.4M562.5 154.9v12.4M558.1 156.7l8.8 8.8M558.1 165.5l8.8 -8.8M563.0 159.7h12.4M569.2 153.5v12.4M564.8 155.3l8.8 8.8M564.8 164.1l8.8 -8.8M569.6 167.8h12.4M575.8 161.6v12.4M571.4 163.4l8.8 8.8M571.4 172.2l8.8 -8.8M576.3 170.7h12.4M582.5 164.5v12.4M578.1 166.3l8.8 8.8M578.1 175.1l8.8 -8.8M583.0 165.9h12.4M589.2 159.7v12.4M584.8 161.5l8.8 8.8M584.8 170.3l8.8 -8.8M589.6 169.2h12.4M595.8 163.0v12.4M591.4 164.8l8.8 8.8M591.4 173.6l8.8 -8.8M596.3 170.7h12.4M602.5 164.5v12.4M598.1 166.3l8.8 8.8M598.1 175.1l8.8 -8.8M603.0 164.4h12.4M609.2 158.2v12.4M604.8 160.0l8.8 8.8M604.8 168.8l8.8 -8.8M609.6 174.4h12.4M615.8 168.2v12.4M611.4 170.0l8.8 8.8M611.4 178.8l8.8 -8.8M616.3 169.2h12.4M622.5 163.0v12.4M618.1 164.8l8.8 8.8M618.1 173.6l8.8 -8.8M623.0 164.4h12.4M629.2 158.2v12.4M624.8 160.0l8.8 8.8M624.8 168.8l8.8 -8.8M629.6 164.4h12.4M635.8 158.2v12.4M631.4 160.0l8.8 8.8M631.4 168.8l8.8 -8.8M636.3 165.9h12.4M642.5 159.7v12.4M638.1 161.5l8.8 8.8M638.1 170.3l8.8 -8.8M643.0 167.8h12.4M649.2 161.6v12.4M644.8 163.4l8.8 8.8M644.8 172.2l8.8 -8.8M649.6 157.8h12.4M655.8 151.6v12.4M651.4 153.4l8.8 8.8M651.4 162.2l8.8 -8.8M656.3 175.9h12.4M662.5 169.7v12.4M658.1 171.5l8.8 8.8M658.1 180.3l8.8 -8.8M663.0 170.7h12.4M669.2 164.5v12.4M664.8 166.3l8.8 8.8M664.8 175.1l8.8 -8.8M669.6 166.7h12.4M675.8 160.5v12.4M671.4 162.3l8.8 8.8M671.4 171.1l8.8 -8.8M676.3 170.7h12.4M682.5 164.5v12.4M678.1 166.3l8.8 8.8M678.1 175.1l8.8 -8.8M683.0 177.7h12.4M689.2 171.5v12.4M684.8 173.3l8.8 8.8M684.8 182.1l8.8 -8.8M689.6 157.1h12.4M695.8 150.9v12.4M691.4 152.7l8.8 8.8M691.4 161.5l8.8 -8.8M696.3 169.2h12.4M702.5 163.0v12.4M698.1 164.8l8.8 8.8M698.1 173.6l8.8 -8.8M703.0 167.8h12.4M709.2 161.6v12.4M704.8 163.4l8.8 8.8M704.8 172.2l8.8 -8.8M709.6 162.6h12.4M715.8 156.4v12.4M711.4 158.2l8.8 8.8M711.4 167.0l8.8 -8.8M716.3 178.1h12.4M722.5 171.9v12.4M718.1 173.7l8.8 8.8M718.1 182.5l8.8 -8.8M723.0 166.3h12.4M729.2 160.1v12.4M724.8 161.9l8.8 8.8M724.8 170.7l8.8 -8.8M729.6 165.9h12.4M735.8 159.7v12.4M731.4 161.5l8.8 8.8M731.4 170.3l8.8 -8.8M736.3 170.0h12.4M742.5 163.8v12.4M738.1 165.6l8.8 8.8M738.1 174.4l8.8 -8.8" fill="none" stroke="#000" stroke-width="1.35"/>
<line x1="82.5" y1="170.7" x2="742.5" y2="170.7" stroke="#000" stroke-width="4.2" stroke-dasharray="12.2 12.37"/>
<rect x="75.8" y="23.2" width="666.7" height="516.3" fill="none" stroke="#000" stroke-width="1.3"/>
<path d="M209.1 539.5v-6.7M209.1 23.2v6.7M342.5 539.5v-6.7M342.5 23.2v6.7M475.8 539.5v-6.7M475.8 23.2v6.7M609.2 539.5v-6.7M609.2 23.2v6.7M75.8 465.7h6.7M742.5 465.7h-6.7M75.8 392.0h6.7M742.5 392.0h-6.7M75.8 318.2h6.7M742.5 318.2h-6.7M75.8 244.5h6.7M742.5 244.5h-6.7M75.8 170.7h6.7M742.5 170.7h-6.7M75.8 97.0h6.7M742.5 97.0h-6.7" stroke="#000" stroke-width="1.3" fill="none"/>
<text transform="translate(75.8 565.3) scale(1 1.05)" text-anchor="middle">0</text>
<text transform="translate(209.1 565.3) scale(1 1.05)" text-anchor="middle">20</text>
<text transform="translate(342.5 565.3) scale(1 1.05)" text-anchor="middle">40</text>
<text transform="translate(475.8 565.3) scale(1 1.05)" text-anchor="middle">60</text>
<text transform="translate(609.2 565.3) scale(1 1.05)" text-anchor="middle">80</text>
<text transform="translate(742.5 565.3) scale(1 1.05)" text-anchor="middle">100</text>
<text transform="translate(70.2 547.4) scale(1 1.05)" text-anchor="end">1</text>
<text transform="translate(69.3 473.2) scale(1 1.05)" text-anchor="end">1.2</text>
<text transform="translate(69.3 399.5) scale(1 1.05)" text-anchor="end">1.4</text>
<text transform="translate(69.3 325.7) scale(1 1.05)" text-anchor="end">1.6</text>
<text transform="translate(69.3 252.0) scale(1 1.05)" text-anchor="end">1.8</text>
<text transform="translate(69.3 178.2) scale(1 1.05)" text-anchor="end">2</text>
<text transform="translate(69.3 104.5) scale(1 1.05)" text-anchor="end">2.2</text>
<text transform="translate(69.3 30.7) scale(1 1.05)" text-anchor="end">2.4</text>
<text transform="translate(409 588.7) scale(1 1.05)" text-anchor="middle">t(s)</text>
<text transform="translate(28.6 280.3) rotate(-90) scale(1 1.05)" text-anchor="middle">Sum of Weights</text>
<rect x="572.1" y="344.4" width="157.7" height="178.4" fill="#fff" stroke="#000" stroke-width="1.3"/>
<line x1="584.3" y1="362" x2="645.8" y2="362" stroke="#f00" stroke-width="1.2"/>
<path d="M608.8 362.0a6.1 6.1 0 1 0 12.2 0a6.1 6.1 0 1 0 -12.2 0" fill="none" stroke="#f00" stroke-width="1.35"/>
<text transform="translate(652.2 369.3) scale(1 1.05)">DP</text>
<line x1="584.3" y1="390.5" x2="645.8" y2="390.5" stroke="#00f" stroke-width="1.2"/>
<path d="M610.5 386.1l8.8 8.8M610.5 394.9l8.8 -8.8" fill="none" stroke="#00f" stroke-width="1.35"/>
<text transform="translate(652.2 397.8) scale(1 1.05)">DPSP</text>
<line x1="584.3" y1="419" x2="645.8" y2="419" stroke="#f0f" stroke-width="1.2"/>
<path d="M608.7 419.0h12.4M614.9 412.8v12.4" fill="none" stroke="#f0f" stroke-width="1.35"/>
<text transform="translate(652.2 426.3) scale(1 1.05)">DDP</text>
<line x1="584.3" y1="447.8" x2="645.8" y2="447.8" stroke="#0f0" stroke-width="1.2"/>
<circle cx="614.9" cy="447.8" r="2.2" fill="#0f0"/>
<text transform="translate(652.2 455.1) scale(1 1.05)">SNNSP</text>
<line x1="584.3" y1="476.3" x2="645.8" y2="476.3" stroke="#000" stroke-width="1.2"/>
<path d="M608.7 476.3h12.4M614.9 470.1v12.4M610.5 471.9l8.8 8.8M610.5 480.7l8.8 -8.8" fill="none" stroke="#000" stroke-width="1.35"/>
<text transform="translate(652.2 483.6) scale(1 1.05)">SNNDP</text>
<line x1="584.3" y1="505" x2="646" y2="505" stroke="#000" stroke-width="4.2" stroke-dasharray="12.7 11.7"/>
<text transform="translate(652.2 512.3) scale(1 1.05)">Ture</text>
</svg>
</body>
</html>
